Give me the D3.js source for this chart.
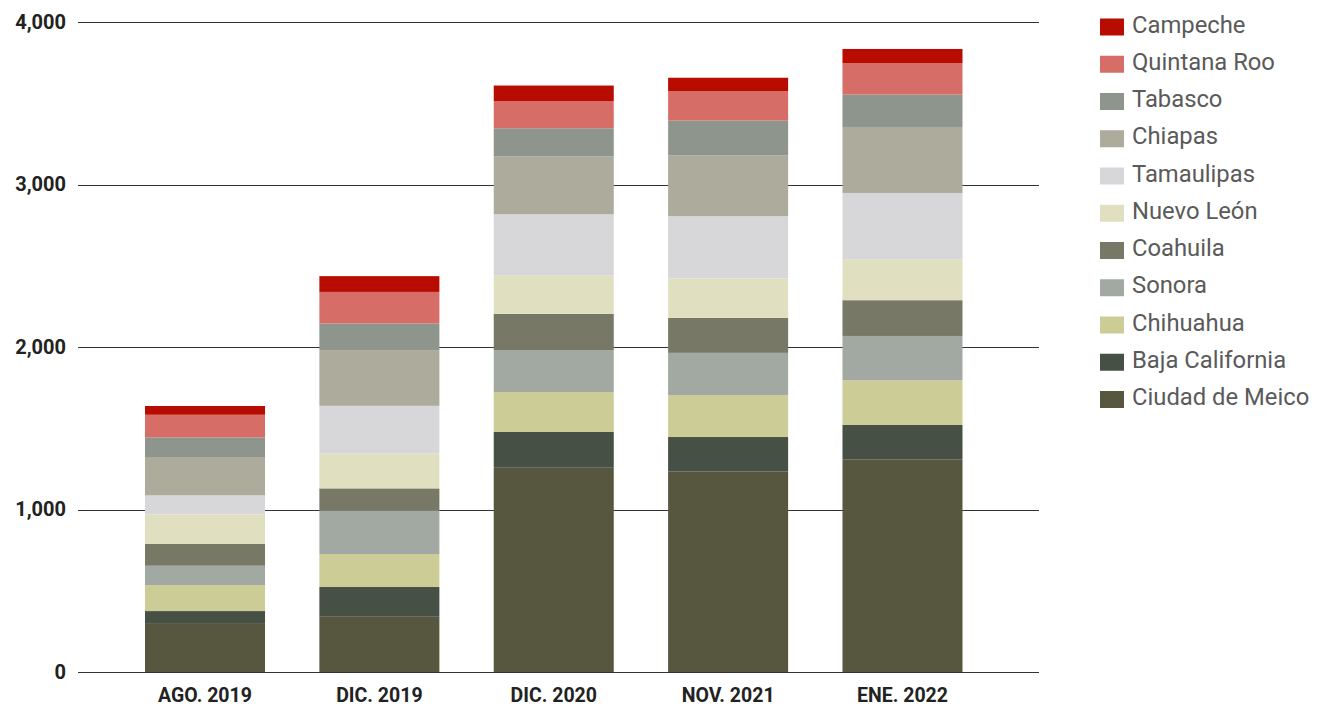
<!DOCTYPE html>
<html>
<head>
<meta charset="utf-8">
<script src="https://cdn.jsdelivr.net/npm/d3@7"></script>
<style>
  html, body { margin: 0; padding: 0; background: #fff; }
  svg { display: block; font-family: Roboto, "Noto Sans", sans-serif; }
</style>
</head>
<body>
<svg id="chart" width="1320" height="706"></svg>
<script>
// Periods on the x axis
const periods = ["AGO. 2019", "DIC. 2019", "DIC. 2020", "NOV. 2021", "ENE. 2022"];

// States, stacked bottom to top
const states = ["Ciudad de Meico", "Baja California", "Chihuahua", "Sonora", "Coahuila",
  "Nuevo León", "Tamaulipas", "Chiapas", "Tabasco", "Quintana Roo", "Campeche"];

// Values per state, one entry per period
const ciudadDeMeico  = [301, 340, 1257, 1233, 1309];
const bajaCalifornia = [74, 183, 220, 213, 211];
const chihuahua      = [160, 203, 246, 258, 275];
const sonora         = [119, 269, 258, 260, 273];
const coahuila       = [135, 135, 223, 215, 220];
const nuevoLeon      = [181, 215, 236, 244, 252];
const tamaulipas     = [117, 293, 377, 382, 408];
const chiapas        = [236, 343, 355, 375, 406];
const tabasco        = [121, 164, 174, 213, 199];
const quintanaRoo    = [139, 194, 166, 182, 193];
const campeche       = [54, 97, 97, 82, 88];

const yTicks = [0, 1000, 2000, 3000, 4000];

const colors = ["#575740", "#465045", "#cccc96", "#a2a9a2", "#777866",
  "#e0e0c0", "#d7d7d9", "#adab9c", "#8e958c", "#d66e67", "#b80c00"];

const seriesValues = [ciudadDeMeico, bajaCalifornia, chihuahua, sonora, coahuila,
  nuevoLeon, tamaulipas, chiapas, tabasco, quintanaRoo, campeche];

// Build rows for d3.stack
const rows = periods.map((p, i) => {
  const r = { period: p };
  states.forEach((s, k) => { r[s] = seriesValues[k][i]; });
  return r;
});

const svg = d3.select("#chart");
const gridLeft = 78, gridRight = 1039, plotTop = 22, plotBottom = 672;

const x = d3.scaleBand()
  .domain(periods)
  .range([78, 1029.5])
  .paddingInner(0.3117)
  .paddingOuter(0.3843);

const y = d3.scaleLinear().domain([0, 4000]).range([plotBottom, plotTop]);
const color = d3.scaleOrdinal().domain(states).range(colors);

// Horizontal gridlines
svg.append("g")
  .selectAll("line")
  .data(yTicks)
  .join("line")
  .attr("x1", gridLeft).attr("x2", gridRight)
  .attr("y1", d => Math.round(y(d)) + 0.5)
  .attr("y2", d => Math.round(y(d)) + 0.5)
  .attr("stroke", "#333")
  .attr("stroke-width", 1);

// Y axis labels
const yAxis = d3.axisLeft(y).tickValues(yTicks).tickFormat(d3.format(",")).tickSize(0).tickPadding(0);
const gy = svg.append("g").attr("transform", "translate(66,0)").call(yAxis);
gy.select(".domain").remove();
gy.selectAll("text")
  .attr("font-size", 20).attr("font-weight", "bold").attr("fill", "#222")
  .attr("font-family", "Roboto, sans-serif");

// Stacked bars
const stacked = d3.stack().keys(states)(rows);
svg.append("g")
  .selectAll("g")
  .data(stacked)
  .join("g")
  .attr("fill", d => color(d.key))
  .selectAll("rect")
  .data(d => d)
  .join("rect")
  .attr("x", d => x(d.data.period))
  .attr("width", x.bandwidth())
  .attr("y", d => y(d[1]))
  .attr("height", d => y(d[0]) - y(d[1]));

// X axis labels
const xAxis = d3.axisBottom(x).tickSize(0).tickPadding(0);
const gx = svg.append("g").attr("transform", `translate(0,${plotBottom})`).call(xAxis);
gx.select(".domain").remove();
gx.selectAll("text")
  .attr("dy", null)
  .attr("y", 29.5)
  .attr("font-size", 19.5).attr("font-weight", "bold").attr("fill", "#222")
  .attr("font-family", "Roboto, sans-serif");

// Legend, top entry is the top of the stack
const legendStates = states.slice().reverse();
const legend = svg.append("g").attr("transform", "translate(1100,0)");
const item = legend.selectAll("g")
  .data(legendStates)
  .join("g")
  .attr("transform", (d, i) => `translate(0,${18.5 + i * 37.25})`);
item.append("rect")
  .attr("width", 24).attr("height", 17)
  .attr("fill", d => color(d));
item.append("text")
  .attr("x", 32).attr("y", 14)
  .attr("font-size", 23.8).attr("fill", "#5a5a5a")
  .attr("font-family", "Roboto, sans-serif")
  .text(d => d);
</script>
</body>
</html>
